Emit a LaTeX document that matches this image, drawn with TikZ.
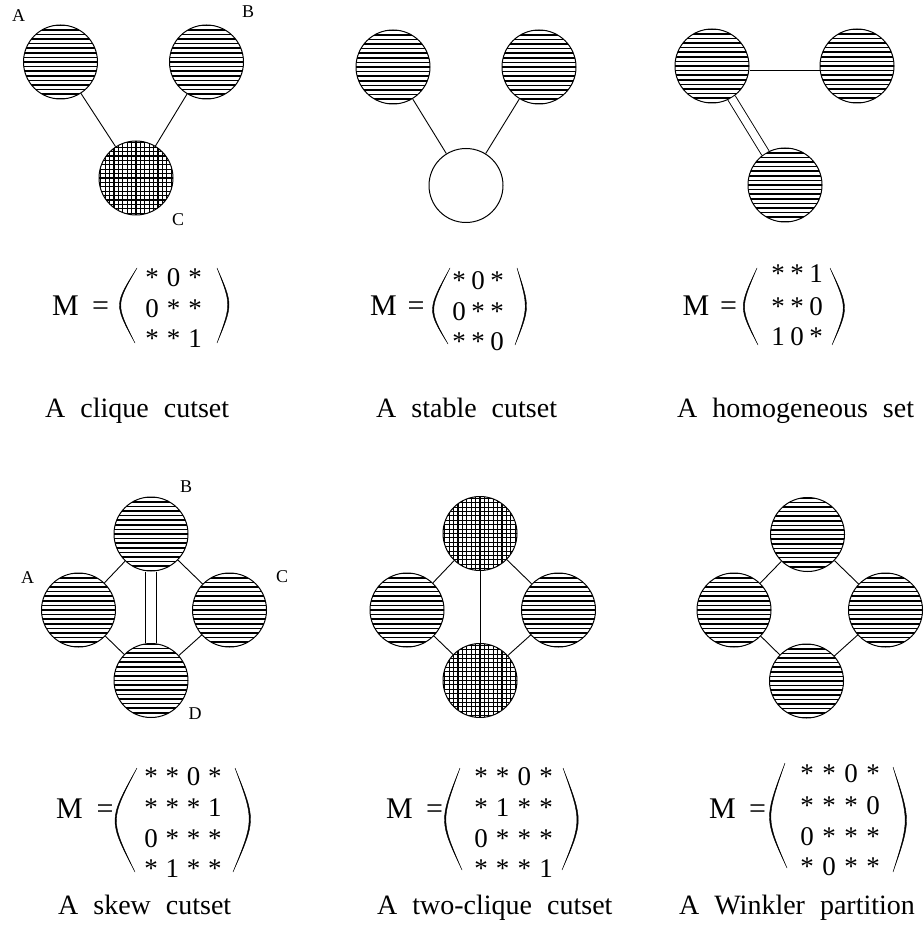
\documentclass[tikz,border=0pt]{standalone}
\usepackage{fontspec}
\setmainfont{Liberation Serif}
\usetikzlibrary{calc}

\tikzset{
  vtx/.style={circle, draw, line width=1pt, minimum size=74pt, inner sep=0pt},
  link/.style={line width=0.9pt},
  dlink/.style={line width=0.9pt, double, double distance=#1},
  rowline/.style={line width=1.6pt},
  gridline/.style={line width=1.1pt},
  parenfill/.style={fill=black, draw=black, line width=0.4pt},
  lbl/.style={font=\fontsize{18}{18}\selectfont, inner sep=0pt},
  ent/.style={font=\fontsize{27}{27}\selectfont, inner sep=0pt, anchor=base},
  mname/.style={font=\fontsize{30}{30}\selectfont, inner sep=0pt, anchor=base},
  captext/.style={font=\fontsize{28}{28}\selectfont, inner sep=0pt, anchor=base west},
}

% horizontal-line shading inside a vertex
\newcommand\rowhatch[1]{%
  \begin{scope}
    \clip (#1) circle (37pt);
    \foreach \k in {-8,...,8}{\draw[rowline] ($(#1)+(-40,\k*4.6)$) -- ++(80,0);}
  \end{scope}}
% square-grid shading inside a vertex
\newcommand\gridhatch[1]{%
  \begin{scope}
    \clip (#1) circle (37pt);
    \foreach \k in {-9,...,9}{%
      \draw[gridline] ($(#1)+(-40,\k*4.4)$) -- ++(80,0);
      \draw[gridline] ($(#1)+(\k*4.4,-40)$) -- ++(0,80);}
  \end{scope}}
% one row of matrix entries: prefix, first column x, column step, baseline, entries
\newcommand\matrow[5]{%
  \foreach \s [count=\c] in {#5}{\node[ent] (#1-\c) at ({#2+(\c-1)*#3},#4) {\s};}}
% a tapered bracket: top end, control point, bottom end, thickness offset in x
\newcommand\bracket[4]{%
  \fill[parenfill] #1 .. controls #2 .. #3 .. controls ($#2+(#4,0)$) .. #1 -- cycle;}
% wide gap between caption words
\newcommand\wsp{\hspace{15pt}}

\begin{document}
\begin{tikzpicture}[x=1pt, y=-1pt]
\useasboundingbox (0,0) rectangle (923,949);

% ---------- clique cutset ----------
\node[vtx] (p1a) at (60.5,62) {};
\node[vtx] (p1b) at (206.5,62) {};
\node[vtx] (p1c) at (136,178) {};
\rowhatch{p1a}\rowhatch{p1b}\gridhatch{p1c}
\draw[link] (p1a) -- (p1c);
\draw[link] (p1b) -- (p1c);
\node[lbl] (l1a) at (18.5,16) {A};
\node[lbl] (l1b) at (248,12) {B};
\node[lbl] (l1c) at (178,220) {C};

\node[mname] (m1) at (65.5,315) {M};
\node[mname] (e1) at (100.5,315) {=};
\bracket{(137,268)}{(114,304.5)}{(135,343)}{1.7}
\bracket{(217,268)}{(233,304.5)}{(217,343)}{-1.7}
\matrow{q1r1}{152}{21.5}{287}{*,0,*}
\matrow{q1r2}{152}{21.5}{317}{0,*,*}
\matrow{q1r3}{152}{21.5}{347}{*,*,1}
\node[captext] (c1) at (45,417) {A\wsp clique\wsp cutset};

% ---------- stable cutset ----------
\node[vtx] (p2a) at (393,67) {};
\node[vtx] (p2b) at (539,67) {};
\node[vtx] (p2c) at (466,185.5) {};
\rowhatch{p2a}\rowhatch{p2b}
\draw[link] (p2a) -- (p2c);
\draw[link] (p2b) -- (p2c);

\node[mname] (m2) at (383.5,315) {M};
\node[mname] (e2) at (416,315) {=};
\bracket{(450,268)}{(427,310)}{(448,344)}{1.7}
\bracket{(517,268)}{(530,307.5)}{(515,345)}{-1.7}
\matrow{q2r1}{459}{19}{289}{*,0,*}
\matrow{q2r2}{459}{19}{320}{0,*,*}
\matrow{q2r3}{459}{19}{350}{*,*,0}
\node[captext] (c2) at (376,417) {A\wsp stable\wsp cutset};

% ---------- homogeneous set ----------
\node[vtx] (p3a) at (712,66) {};
\node[vtx] (p3b) at (857,66) {};
\node[vtx] (p3c) at (785,185) {};
\rowhatch{p3a}\rowhatch{p3b}\rowhatch{p3c}
\draw[link] ([yshift=-4pt]p3a.east) -- ([yshift=-4pt]p3b.west);
\draw[dlink=7.5pt] (p3a) -- (p3c);

\node[mname] (m3) at (696,315) {M};
\node[mname] (e3) at (728.5,315) {=};
\bracket{(757,268)}{(738.5,307.5)}{(758,345)}{1.7}
\bracket{(830,268)}{(849,307.5)}{(832,345)}{-1.7}
\matrow{q3r1}{778}{19}{283}{*,*,1}
\matrow{q3r2}{778}{19}{315}{*,*,0}
\matrow{q3r3}{778}{19}{345}{1,0,*}
\node[captext] (c3) at (677,417) {A\wsp homogeneous\wsp set};

% ---------- skew cutset ----------
\node[vtx] (p4b) at (151,534) {};
\node[vtx] (p4a) at (78.5,610) {};
\node[vtx] (p4c) at (229.5,610) {};
\node[vtx] (p4d) at (151,680.5) {};
\rowhatch{p4a}\rowhatch{p4b}\rowhatch{p4c}\rowhatch{p4d}
\draw[link] (p4a) -- (p4b);
\draw[link] (p4b) -- (p4c);
\draw[link] (p4a) -- (p4d);
\draw[link] (p4c) -- (p4d);
\draw[dlink=10pt] (p4b) -- (p4d);
\node[lbl] (l4b) at (186,487) {B};
\node[lbl] (l4a) at (27.5,578) {A};
\node[lbl] (l4c) at (282,577) {C};
\node[lbl] (l4d) at (195,714) {D};

\node[mname] (m4) at (69.5,818) {M};
\node[mname] (e4) at (105,818) {=};
\bracket{(137,768)}{(108,820)}{(135,872)}{1.8}
\bracket{(235,768)}{(256,820)}{(233,872)}{-1.8}
\matrow{q4r1}{151}{21.3}{785}{*,*,0,*}
\matrow{q4r2}{151}{21.3}{816}{*,*,*,1}
\matrow{q4r3}{151}{21.3}{847}{0,*,*,*}
\matrow{q4r4}{151}{21.3}{877}{*,1,*,*}
\node[captext] (c4) at (58,914) {A\wsp skew\wsp cutset};

% ---------- two-clique cutset ----------
\node[vtx] (p5t) at (480,533.5) {};
\node[vtx] (p5l) at (407,610) {};
\node[vtx] (p5r) at (558.5,610) {};
\node[vtx] (p5b) at (480,680.5) {};
\gridhatch{p5t}\rowhatch{p5l}\rowhatch{p5r}\gridhatch{p5b}
\draw[link] (p5t) -- (p5l);
\draw[link] (p5t) -- (p5r);
\draw[link] (p5l) -- (p5b);
\draw[link] (p5r) -- (p5b);
\draw[link] (p5t) -- (p5b);

\node[mname] (m5) at (399.5,818) {M};
\node[mname] (e5) at (434.5,818) {=};
\bracket{(460,768)}{(439,821)}{(462,870)}{1.8}
\bracket{(563,768)}{(583.5,821)}{(562,870)}{-1.8}
\matrow{q5r1}{481}{21.7}{785}{*,*,0,*}
\matrow{q5r2}{481}{21.7}{816}{*,1,*,*}
\matrow{q5r3}{481}{21.7}{847}{0,*,*,*}
\matrow{q5r4}{481}{21.7}{877}{*,*,*,1}
\node[captext] (c5) at (377,914) {A\wsp two-clique\wsp cutset};

% ---------- Winkler partition ----------
\node[vtx] (p6t) at (807.5,534.5) {};
\node[vtx] (p6l) at (734,610) {};
\node[vtx] (p6r) at (885.5,610) {};
\node[vtx] (p6b) at (806.5,681) {};
\rowhatch{p6t}\rowhatch{p6l}\rowhatch{p6r}\rowhatch{p6b}
\draw[link] (p6t) -- (p6l);
\draw[link] (p6t) -- (p6r);
\draw[link] (p6l) -- (p6b);
\draw[link] (p6r) -- (p6b);

\node[mname] (m6) at (722.5,818) {M};
\node[mname] (e6) at (757.5,818) {=};
\bracket{(785,763)}{(764,818.5)}{(787,868)}{1.8}
\bracket{(893,767)}{(911,820.5)}{(893,872)}{-1.8}
\matrow{q6r1}{807}{22}{782}{*,*,0,*}
\matrow{q6r2}{807}{22}{814}{*,*,*,0}
\matrow{q6r3}{807}{22}{845}{0,*,*,*}
\matrow{q6r4}{807}{22}{875}{*,0,*,*}
\node[captext] (c6) at (679,914) {A\wsp Winkler\wsp partition};
\end{tikzpicture}
\end{document}
